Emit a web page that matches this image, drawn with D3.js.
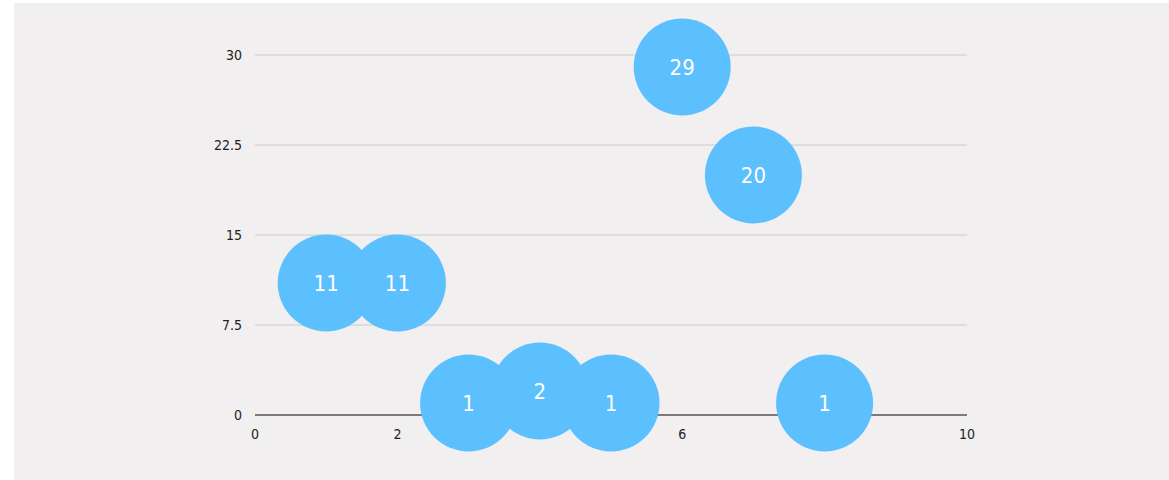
<!DOCTYPE html>
<html><head><meta charset="utf-8">
<script src="https://cdn.jsdelivr.net/npm/d3@7"></script>
<style>
html,body{margin:0;padding:0;background:#fff;}
svg{display:block;}
text{font-family:"Liberation Sans Narrow","DejaVu Sans Condensed",sans-serif;}
</style></head>
<body><svg id="c" width="1169" height="480"></svg>
<script>
const xValues = [1, 2, 3, 4, 5, 6, 7, 8];
const yValues = [11, 11, 1, 2, 1, 29, 20, 1];
const labels = ["11", "11", "1", "2", "1", "29", "20", "1"];
const xTicks = [0, 2, 6, 10];
const yTicks = [0, 7.5, 15, 22.5, 30];

const svg = d3.select("#c");
svg.append("rect").attr("x",14).attr("y",3).attr("width",1155).attr("height",477).attr("fill","#f1eff0");

const x = d3.scaleLinear().domain([0,10]).range([255,967]);
const y = d3.scaleLinear().domain([0,30]).range([415,55]);

const grid = svg.append("g");
grid.selectAll("line").data(yTicks).join("line")
  .attr("x1",x(0)).attr("x2",x(10))
  .attr("y1",d=>y(d)).attr("y2",d=>y(d))
  .attr("stroke",d=>d===0?"#555":"#cccccc").attr("stroke-width",d=>d===0?1.5:1);

svg.append("g").selectAll("text").data(yTicks).join("text")
  .attr("x",242).attr("y",d=>y(d)).attr("dy","0.35em")
  .attr("text-anchor","end").attr("font-size",14).attr("fill","#222")
  .text(d=>d);

svg.append("g").selectAll("text").data(xTicks).join("text")
  .attr("x",d=>x(d)).attr("y",434).attr("dy","0.35em")
  .attr("text-anchor","middle").attr("font-size",14).attr("fill","#222")
  .text(d=>d);

const pts = xValues.map((v,i)=>({x:v,y:yValues[i],l:labels[i]}));
const g = svg.append("g");
g.selectAll("circle").data(pts).join("circle")
  .attr("cx",d=>x(d.x)).attr("cy",d=>y(d.y)).attr("r",48.5)
  .attr("fill","#5bc0fd");
g.selectAll("text").data(pts).join("text")
  .attr("x",d=>x(d.x)).attr("y",d=>y(d.y)).attr("dy","0.35em")
  .attr("text-anchor","middle").attr("font-size",22).attr("fill","#fff")
  .text(d=>d.l);
</script></body></html>
